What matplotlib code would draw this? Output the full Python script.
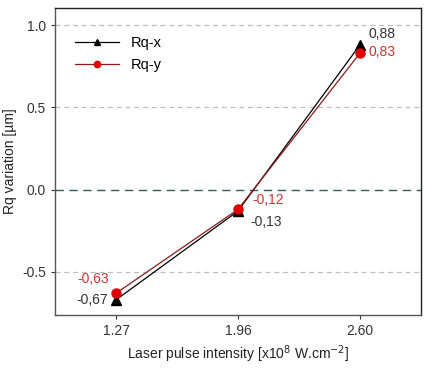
import numpy as np
import matplotlib.pyplot as plt

plt.rcParams['font.family'] = ['Liberation Sans', 'DejaVu Sans']

intensity = ['1.27', '1.96', '2.60']
rq_x = [-0.67, -0.13, 0.88]
rq_y = [-0.63, -0.12, 0.83]
lab_x = ['-0,67', '-0,13', '0,88']
lab_y = ['-0,63', '-0,12', '0,83']

fig = plt.figure(figsize=(4.25, 3.68), dpi=100)
ax = fig.add_axes([55/425, 1 - 315/368, 366/425, 307/368])

pos = np.arange(len(intensity))

for v in [1.0, 0.5, -0.5]:
    ax.axhline(v, color='#bdbdbd', lw=0.9, ls=(0, (4, 3)), zorder=0)
ax.axhline(0.0, color='#2e5e55', lw=1.0, ls=(0, (6, 4)), zorder=0)

ax.plot(pos, rq_x, color='black', lw=0.9, marker='^', ms=7, label='Rq-x')
ax.plot(pos, rq_y, color='#8b1a1a', lw=0.9, marker='o', ms=6.5,
        mfc='#e00000', mec='#e00000', label='Rq-y')

dark = '#333333'
red = '#cc3333'
fs = 10
# left point
ax.annotate(lab_y[0], (pos[0], rq_y[0]), xytext=(-5, 5), textcoords='offset points',
            ha='right', va='bottom', color=red, fontsize=fs)
ax.annotate(lab_x[0], (pos[0], rq_x[0]), xytext=(-6, 0), textcoords='offset points',
            ha='right', va='center', color=dark, fontsize=fs)
# middle point
ax.annotate(lab_y[1], (pos[1], rq_y[1]), xytext=(10, 2), textcoords='offset points',
            ha='left', va='bottom', color=red, fontsize=fs)
ax.annotate(lab_x[1], (pos[1], rq_x[1]), xytext=(9, -3), textcoords='offset points',
            ha='left', va='top', color=dark, fontsize=fs)
# right point
ax.annotate(lab_x[2], (pos[2], rq_x[2]), xytext=(6, 3), textcoords='offset points',
            ha='left', va='bottom', color=dark, fontsize=fs)
ax.annotate(lab_y[2], (pos[2], rq_y[2]), xytext=(6, 1), textcoords='offset points',
            ha='left', va='center', color=red, fontsize=fs)

ax.set_xlim(-0.5, 2.5)
ax.set_ylim(-0.762, 1.104)
ax.set_xticks(pos)
ax.set_xticklabels(intensity)
ax.set_yticks([-0.5, 0.0, 0.5, 1.0])
ax.set_yticklabels(['-0.5', '0.0', '0.5', '1.0'])
ax.tick_params(labelsize=10, colors='#333333', length=3, width=0.8)

for s in ['left', 'bottom']:
    ax.spines[s].set_color('#555555')
for s in ['top', 'right']:
    ax.spines[s].set_color('#222222')
for s in ax.spines.values():
    s.set_linewidth(1.0)

ax.set_xlabel('Laser pulse intensity [x10$^{8}$ W.cm$^{-2}$]', fontsize=10, color='#222222')
ax.set_ylabel('Rq variation [\u00b5m]', fontsize=10, color='#222222')

leg = ax.legend(loc='upper left', frameon=False, fontsize=10.5, handlelength=3.0,
                markerscale=0.7, bbox_to_anchor=(0.02, 0.95), labelspacing=0.5)

fig.savefig('out.png', dpi=100)
